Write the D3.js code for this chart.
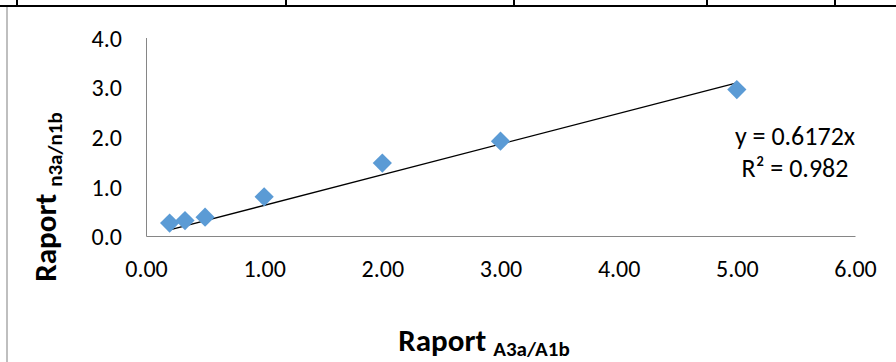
<!DOCTYPE html>
<html>
<head>
<meta charset="utf-8">
<script src="https://cdn.jsdelivr.net/npm/d3@7"></script>
<style>
  html, body { margin: 0; padding: 0; background: #fff; }
  svg { display: block; }
  text { font-family: Calibri, Carlito, Lato, "Open Sans", sans-serif; fill: #000; }
</style>
</head>
<body>
<svg id="chart" width="896" height="362"></svg>
<script>
// ---- data ----
const ratioA = [0.2, 0.33, 0.5, 1, 2, 3, 5];          // Raport A3a/A1b
const ratioN = [0.26, 0.31, 0.38, 0.79, 1.47, 1.91, 2.95]; // Raport n3a/n1b
const xTicks = [0, 1, 2, 3, 4, 5, 6];
const yTicks = [0, 1, 2, 3, 4];
const slope = 0.6172;
const eqLabel = "y = 0.6172x";
const r2Label = "R² = 0.982";
const tableBorderXs = [17, 286, 514, 707, 835];

const svg = d3.select("#chart");
const W = 896, H = 362;

// table cell borders above the chart
svg.append("line").attr("x1", 0).attr("x2", W).attr("y1", 6).attr("y2", 6)
  .attr("stroke", "#000").attr("stroke-width", 2.2);
svg.selectAll("line.cell").data(tableBorderXs).enter().append("line")
  .attr("class", "cell")
  .attr("x1", d => d).attr("x2", d => d).attr("y1", 0).attr("y2", 6)
  .attr("stroke", "#000").attr("stroke-width", 2);
// chart frame left edge
svg.append("line").attr("x1", 7).attr("x2", 7).attr("y1", 7).attr("y2", H)
  .attr("stroke", "#bfbfbf").attr("stroke-width", 2);

const x = d3.scaleLinear().domain([0, 6]).range([146, 855]);
const y = d3.scaleLinear().domain([0, 4]).range([236, 37.5]);

// axes
const xAxis = d3.axisBottom(x).tickValues(xTicks).tickFormat(d3.format(".2f")).tickSize(0).tickPadding(0);
const yAxis = d3.axisLeft(y).tickValues(yTicks).tickFormat(d3.format(".1f")).tickSize(0).tickPadding(0);

const gx = svg.append("g").attr("transform", `translate(0,${y(0)})`).call(xAxis);
gx.select(".domain").attr("stroke", "#868686").attr("stroke-width", 1);
gx.selectAll("text").attr("font-size", 24).attr("fill", "#000").attr("y", 41).attr("dy", 0);

const gy = svg.append("g").attr("transform", `translate(${x(0)},0)`).call(yAxis);
gy.select(".domain").attr("stroke", "#868686").attr("stroke-width", 1);
gy.selectAll("text").attr("font-size", 24).attr("fill", "#000").attr("x", -24).attr("dy", "0.36em");

// trendline
const ext = d3.extent(ratioA);
svg.append("line")
  .attr("x1", x(ext[0])).attr("y1", y(slope * ext[0]))
  .attr("x2", x(ext[1])).attr("y2", y(slope * ext[1]))
  .attr("stroke", "#000").attr("stroke-width", 1.3);

// markers (diamonds)
const sym = d3.symbol().type(d3.symbolSquare).size(185);
svg.selectAll("path.pt").data(ratioA.map((a, i) => [a, ratioN[i]])).enter().append("path")
  .attr("class", "pt")
  .attr("d", sym)
  .attr("transform", d => `translate(${x(d[0])},${y(d[1])}) rotate(45)`)
  .attr("fill", "#5b9bd5");

// equation label
svg.append("text").attr("x", 795).attr("y", 145).attr("text-anchor", "middle")
  .attr("font-size", 26).text(eqLabel);
svg.append("text").attr("x", 795).attr("y", 177).attr("text-anchor", "middle")
  .attr("font-size", 26).text(r2Label);

// axis titles
const xt = svg.append("text").attr("x", 484).attr("y", 351).attr("text-anchor", "middle")
  .attr("font-weight", "bold").attr("font-size", 31);
xt.append("tspan").text("Raport ");
xt.append("tspan").attr("dy", 5).attr("font-size", 21).text("A3a/A1b");

const yt = svg.append("text").attr("transform", "translate(56,197) rotate(-90)")
  .attr("text-anchor", "middle").attr("font-weight", "bold").attr("font-size", 31);
yt.append("tspan").text("Raport ");
yt.append("tspan").attr("dy", 6).attr("font-size", 21).text("n3a/n1b");
</script>
</body>
</html>
